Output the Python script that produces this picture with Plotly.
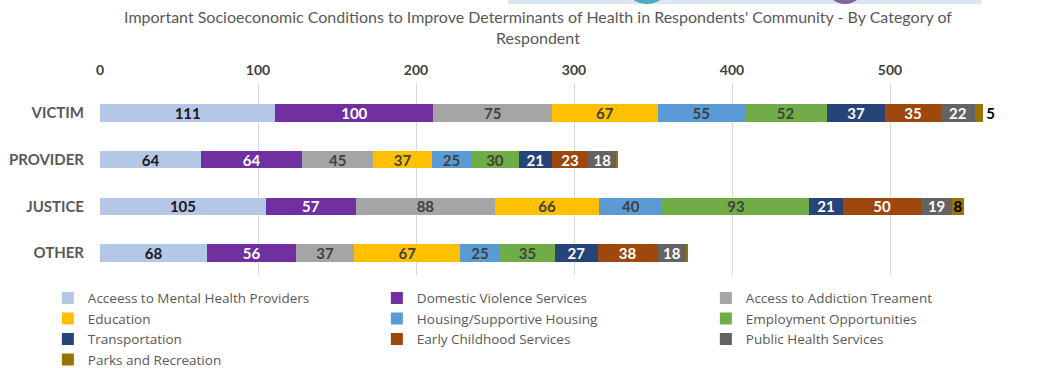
import plotly.graph_objects as go

categories = ["VICTIM", "PROVIDER", "JUSTICE", "OTHER"]

series_names = [
    "Acceess to Mental Health Providers",
    "Domestic Violence Services",
    "Access to Addiction Treament",
    "Education",
    "Housing/Supportive Housing",
    "Employment Opportunities",
    "Transportation",
    "Early Childhood Services",
    "Public Health Services",
    "Parks and Recreation",
]

mental_health = [111, 64, 105, 68]
domestic_violence = [100, 64, 57, 56]
addiction = [75, 45, 88, 37]
education = [67, 37, 66, 67]
housing = [55, 25, 40, 25]
employment = [52, 30, 93, 35]
transportation = [37, 21, 21, 27]
early_childhood = [35, 23, 50, 38]
public_health = [22, 18, 19, 18]
parks = [5, 1, 8, 1]

series_values = [mental_health, domestic_violence, addiction, education, housing,
                 employment, transportation, early_childhood, public_health, parks]

colors = ["#B4C7E7", "#7030A0", "#A5A5A5", "#FFC000", "#5B9BD5",
          "#70AD47", "#264478", "#9E480E", "#636363", "#997300"]
label_colors = ["#1a1a1a", "#FFFFFF", "#404040", "#404040", "#404040",
                "#404040", "#FFFFFF", "#FFFFFF", "#FFFFFF", "#000000"]

# labels shown (slivers unlabeled)
parks_labels = ["5", "", "8", ""]
parks_positions = ["outside", "inside", "inside", "inside"]

fig = go.Figure()
for i, (name, vals) in enumerate(zip(series_names, series_values)):
    if i == len(series_names) - 1:
        text = parks_labels
        pos = parks_positions
    else:
        text = [str(v) for v in vals]
        pos = "inside"
    fig.add_trace(go.Bar(
        name=name, y=categories, x=vals, orientation="h",
        marker=dict(color=colors[i], line=dict(width=0)),
        text=text, textposition=pos, insidetextanchor="middle",
        constraintext="none", cliponaxis=False, textangle=0,
        textfont=dict(family="Lato", size=15, color=label_colors[i], weight="bold"),
        outsidetextfont=dict(family="Lato", size=15, color="#000000", weight="bold"),
        hoverinfo="x+name",
    ))

fig.update_layout(
    width=1059, height=368,
    barmode="stack", bargap=0.63,
    paper_bgcolor="white", plot_bgcolor="white",
    margin=dict(l=100, r=11, t=83, b=93, autoexpand=False),
    title=dict(
        text="Important Socioeconomic Conditions to Improve Determinants of Health in Respondents' Community - By Category of<br>Respondent",
        x=0.508, xanchor="center", y=1 - 23 / 368, yanchor="top",
        font=dict(family="Lato", size=16, color="#595959"),
    ),
    xaxis=dict(
        side="top", range=[0, 600], dtick=100, tick0=0,
        showgrid=True, gridcolor="#D9D9D9", gridwidth=1,
        zeroline=False, showline=False, ticks="",
        tickfont=dict(family="Lato", size=14, color="#404040", weight="bold"),
        ticklabelstandoff=4,
    ),
    yaxis=dict(
        range=[3.47, -0.64], showgrid=False, zeroline=False, showline=False,
        ticks="", ticklabelstandoff=15,
        tickfont=dict(family="Lato", size=15, color="#595959", weight="bold"),
    ),
    legend=dict(
        orientation="h", x=-0.055, xanchor="left", y=-0.04, yanchor="top",
        entrywidth=284, entrywidthmode="pixels",
        font=dict(family="Open Sans", size=13.5, color="#595959"),
        itemwidth=30, traceorder="normal",
    ),
    showlegend=True,
    shapes=[
        dict(type="rect", xref="paper", yref="paper",
             x0=(508 - 100) / 948, x1=(981 - 100) / 948,
             y0=1 + 79 / 192, y1=1 + 90 / 192,
             fillcolor="#DCE6F2", line=dict(width=0), layer="below"),
        dict(type="circle", xref="paper", yref="paper",
             x0=(627 - 100) / 948, x1=(667 - 100) / 948,
             y0=1 + 79 / 192, y1=1 + 110 / 192,
             fillcolor="#4BACC6", line=dict(width=0), layer="below"),
        dict(type="circle", xref="paper", yref="paper",
             x0=(827 - 100) / 948, x1=(863 - 100) / 948,
             y0=1 + 79 / 192, y1=1 + 110 / 192,
             fillcolor="#8064A2", line=dict(width=0), layer="below"),
    ],
)

fig.write_html("out.html")
